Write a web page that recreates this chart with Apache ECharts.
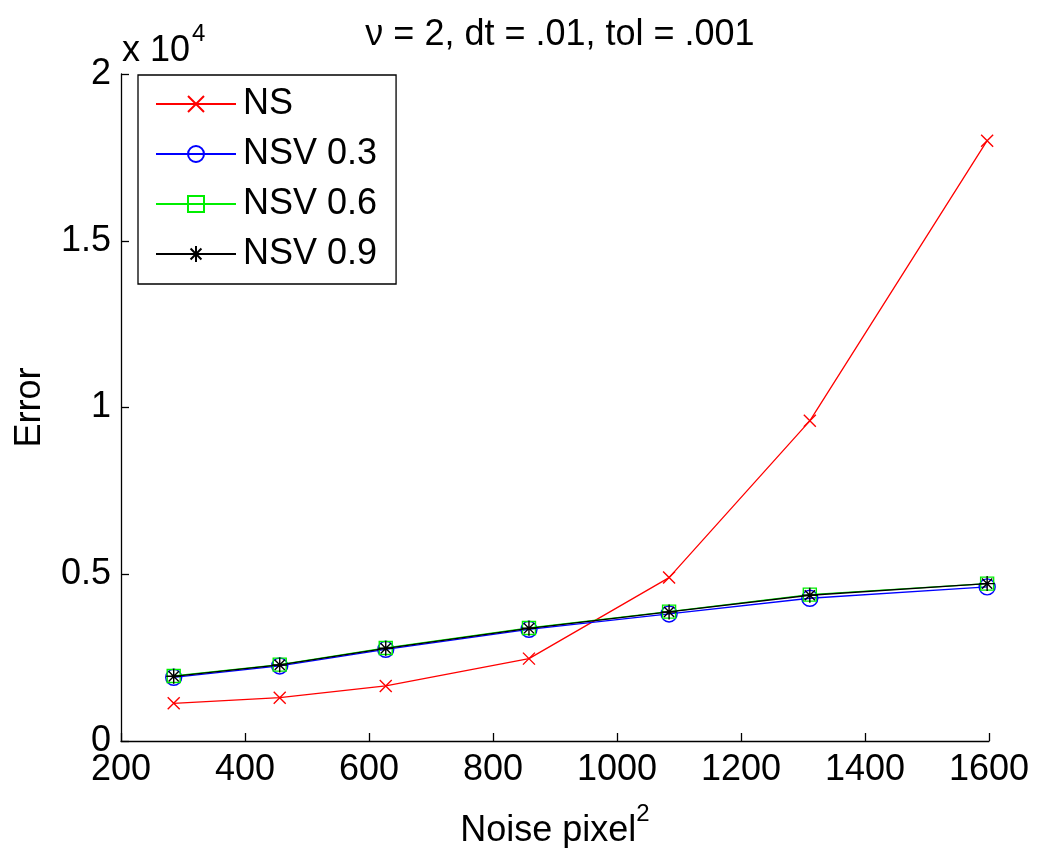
<!DOCTYPE html>
<html>
<head>
<meta charset="utf-8">
<script src="https://cdn.jsdelivr.net/npm/echarts@6/dist/echarts.min.js"></script>
<style>html,body{margin:0;padding:0;background:#fff}#c{width:1037px;height:848px}</style>
</head>
<body>
<div id="c"></div>
<script>
const noise = [285, 456, 627, 858, 1084, 1311, 1597];
const ns     = [1130, 1300, 1650, 2470, 4900, 9600, 18000];
const nsv03  = [1910, 2250, 2750, 3350, 3810, 4280, 4620];
const nsv06  = [1950, 2290, 2790, 3390, 3880, 4390, 4720];
const nsv09  = [1940, 2280, 2780, 3380, 3870, 4370, 4720];
const seriesNames = ['NS', 'NSV 0.3', 'NSV 0.6', 'NSV 0.9'];
const titleText = 'ν = 2, dt = .01, tol = .001';
const yTickScale = 10000;

const FONT = '"Liberation Sans", Arial, Helvetica, sans-serif';
const pair = arr => arr.map((v, i) => [noise[i], v]);

const crossPath = 'path://M0,0L10,10M10,0L0,10';
const starPath = 'path://M5,0L5,10M0,5L10,5M1.6,1.6L8.4,8.4M8.4,1.6L1.6,8.4';

function mk(name, data, color, symbol, size, z) {
  return {
    name, type: 'line', data: pair(data), z,
    symbol, symbolSize: size, showSymbol: true,
    lineStyle: { color, width: 1.3 },
    itemStyle: { color: 'rgba(0,0,0,0)', borderColor: color, borderWidth: 1.4 },
    emphasis: { disabled: true },
    animation: false
  };
}

const chart = echarts.init(document.getElementById('c'));
chart.setOption({
  backgroundColor: '#fff',
  animation: false,
  title: {
    text: titleText, left: 555, top: 12, textAlign: 'center',
    textStyle: { fontFamily: FONT, fontSize: 36, fontWeight: 'normal', color: '#000' }
  },
  grid: { left: 121, right: 48, top: 74, bottom: 107, containLabel: false, outerBoundsMode: 'none' },
  legend: {
    orient: 'vertical', left: 138, top: 75,
    data: seriesNames,
    itemWidth: 80, itemHeight: 20, itemGap: 14,
    padding: [11, 19, 12, 17],
    borderColor: '#000', borderWidth: 1.3, backgroundColor: '#fff',
    textStyle: { fontFamily: FONT, fontSize: 36, color: '#000', lineHeight: 36, padding: [0, 0, 0, 2] },
    selectedMode: false
  },
  xAxis: {
    type: 'value', min: 200, max: 1600, interval: 200,
    name: '{a|Noise pixel}{s|2}', nameLocation: 'middle', nameGap: 61,
    nameTextStyle: {
      fontFamily: FONT, color: '#000',
      rich: {
        a: { fontFamily: FONT, fontSize: 36, color: '#000' },
        s: { fontFamily: FONT, fontSize: 24, color: '#000', verticalAlign: 'bottom', padding: [0, 0, 34, 0] }
      }
    },
    axisLine: { show: true, lineStyle: { color: '#000', width: 1.3 } },
    axisTick: { show: true, inside: true, length: 8, lineStyle: { color: '#000', width: 1.3 } },
    axisLabel: { fontFamily: FONT, fontSize: 36, color: '#000', margin: 11,
      formatter: v => String(v) },
    splitLine: { show: false }
  },
  yAxis: {
    type: 'value', min: 0, max: 20000, interval: 5000,
    name: 'Error', nameLocation: 'middle', nameGap: 73, nameRotate: 90,
    nameTextStyle: { fontFamily: FONT, fontSize: 36, color: '#000' },
    axisLine: { show: true, lineStyle: { color: '#000', width: 1.3 } },
    axisTick: { show: true, inside: true, length: 8, lineStyle: { color: '#000', width: 1.3 } },
    axisLabel: { fontFamily: FONT, fontSize: 36, color: '#000', margin: 10,
      formatter: v => String(v / yTickScale) },
    splitLine: { show: false }
  },
  graphic: [{
    type: 'text', left: 122, top: 22, z: 10,
    style: {
      text: '{a|x 10}{s|4}',
      rich: {
        a: { fontFamily: FONT, fontSize: 36, fill: '#000' },
        s: { fontFamily: FONT, fontSize: 24, fill: '#000', verticalAlign: 'bottom', padding: [0, 0, 34, 2] }
      }
    }
  }],
  series: [
    mk(seriesNames[0], ns, '#ff0000', crossPath, 12, 2),
    mk(seriesNames[1], nsv03, '#0000ff', 'circle', 16, 3),
    mk(seriesNames[2], nsv06, '#00ee00', 'rect', 13, 4),
    mk(seriesNames[3], nsv09, '#000000', starPath, 15, 5)
  ]
});
</script>
</body>
</html>
